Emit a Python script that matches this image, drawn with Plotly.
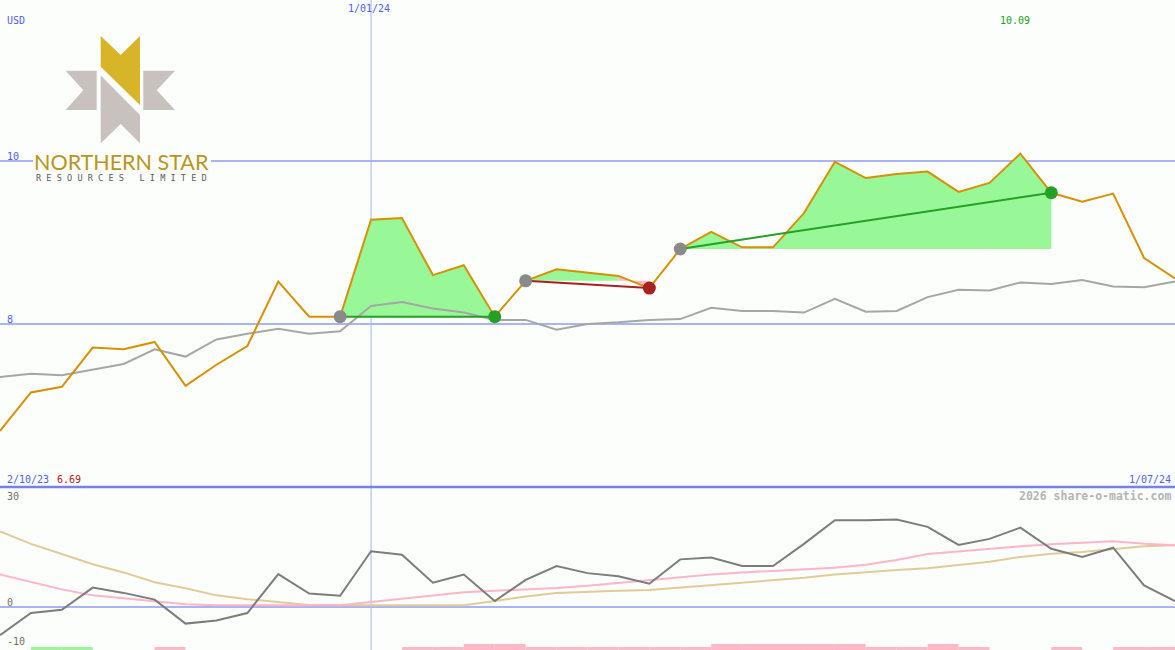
import plotly.graph_objects as go

W, H = 1175, 650

# ---------------- data (weekly, index 0 = 2/10/23) ----------------
price = [6.69, 7.16, 7.23, 7.71, 7.69, 7.78, 7.24, 7.50, 7.73, 8.52,
         8.09, 8.09, 9.28, 9.30, 8.60, 8.72, 8.09, 8.53, 8.67, 8.63,
         8.59, 8.44, 8.92, 9.13, 8.94, 8.94, 9.36, 9.99, 9.79, 9.84,
         9.87, 9.62, 9.73, 10.09, 9.61, 9.50, 9.60, 8.81, 8.56]
avg = [7.35, 7.39, 7.37, 7.44, 7.51, 7.69, 7.60, 7.81, 7.88, 7.94,
       7.88, 7.91, 8.22, 8.27, 8.19, 8.14, 8.05, 8.05, 7.93, 8.00,
       8.02, 8.05, 8.06, 8.20, 8.16, 8.16, 8.14, 8.31, 8.15, 8.16,
       8.33, 8.42, 8.41, 8.51, 8.49, 8.54, 8.46, 8.45, 8.52]

osc = [-8.0, -1.7, -0.8, 5.5, 4.0, 2.1, -4.7, -3.8, -1.7, 9.3,
       3.8, 3.2, 15.8, 14.8, 6.9, 9.2, 1.7, 7.7, 11.6, 9.6,
       8.7, 6.6, 13.5, 14.0, 11.6, 11.6, 17.9, 24.6, 24.6, 24.8,
       22.7, 17.6, 19.3, 22.5, 16.5, 14.2, 16.8, 6.1, 1.7]
osc_fast = [9.2, 7.0, 5.0, 3.3, 2.4, 1.5, 0.8, 0.5, 0.5, 0.6,
            0.5, 0.5, 1.4, 2.3, 3.3, 4.2, 4.6, 4.9, 5.4, 6.0,
            6.8, 7.6, 8.6, 9.2, 9.8, 10.2, 10.7, 11.1, 12.0, 13.3,
            15.0, 15.8, 16.6, 17.2, 17.8, 18.3, 18.6, 17.9, 17.5]
osc_slow = [21.4, 17.9, 15.0, 12.1, 9.8, 7.0, 5.3, 3.3, 2.2, 1.4,
            0.6, 0.5, 0.5, 0.5, 0.5, 0.5, 1.7, 3.0, 4.0, 4.4,
            4.6, 4.8, 5.5, 6.1, 6.8, 7.6, 8.3, 9.2, 9.9, 10.5,
            11.0, 11.8, 12.8, 14.2, 15.1, 15.6, 16.5, 17.2, 17.5]

# signal strips per weekly interval (38 intervals): 0 none, 1 thin, 2 tall
green_sig = [0, 1, 1, 0, 0, 0, 0, 0, 0, 0, 0, 0, 0, 0, 0, 0, 0, 0, 0,
             0, 0, 0, 0, 0, 0, 0, 0, 0, 0, 0, 0, 0, 0, 0, 0, 0, 0, 0]
pink_sig = [0, 0, 0, 0, 0, 1, 0, 0, 0, 0, 0, 0, 0, 1, 1, 2, 2, 1, 1,
            1, 1, 1, 1, 2, 2, 2, 2, 2, 1, 1, 2, 1, 0, 0, 1, 0, 1, 1]

trade_entry = [11, 17, 22]
trade_exit = [16, 21, 34]

x_idx = list(range(len(price)))
start_label, end_label, mid_label = "2/10/23", "1/07/24", "1/01/24"
mid_index = 12
low_label, high_label = "6.69", "10.09"

# ---------------- styles ----------------
BG = "#fcfefc"
ORANGE = "#d99000"
GRAYL = "#a6a6a6"
GRID = "#a8b4f4"
BLUE_TXT = "#4f5ff0"
FILL_G = "#98f898"
FILL_P = "#ffb8c8"
MONO = "DejaVu Sans Mono"

fig = go.Figure()

# trade fills (per segment between price and entry level)
gx, gy, rx, ry = [], [], [], []
for e, x in zip(trade_entry, trade_exit):
    lvl = price[e]
    for i in range(e, x):
        xs = [i, i + 1, i + 1, i, i, None]
        ys = [price[i], price[i + 1], lvl, lvl, price[i], None]
        if price[i + 1] >= lvl:
            gx += xs; gy += ys
        else:
            rx += xs; ry += ys
fig.add_trace(go.Scatter(x=gx, y=gy, fill="toself", fillcolor=FILL_G, mode="none",
                         xaxis="x", yaxis="y", hoverinfo="skip"))
fig.add_trace(go.Scatter(x=rx, y=ry, fill="toself", fillcolor=FILL_P, mode="none",
                         xaxis="x", yaxis="y", hoverinfo="skip"))

fig.add_trace(go.Scatter(x=x_idx, y=avg, mode="lines", line=dict(color=GRAYL, width=2),
                         xaxis="x", yaxis="y"))
fig.add_trace(go.Scatter(x=x_idx, y=price, mode="lines", line=dict(color=ORANGE, width=2),
                         xaxis="x", yaxis="y"))

# trade lines and markers
for e, x in zip(trade_entry, trade_exit):
    col = "#24a024" if price[x] >= price[e] else "#a82020"
    fig.add_trace(go.Scatter(x=[e, x], y=[price[e], price[x]],
                             mode="lines", line=dict(color=col, width=2),
                             xaxis="x", yaxis="y"))
for e, x in zip(trade_entry, trade_exit):
    col = "#24a024" if price[x] >= price[e] else "#a82020"
    fig.add_trace(go.Scatter(x=[e], y=[price[e]], mode="markers",
                             marker=dict(color="#8a8a8a", size=13, line=dict(width=0)),
                             xaxis="x", yaxis="y"))
    fig.add_trace(go.Scatter(x=[x], y=[price[x]], mode="markers",
                             marker=dict(color=col, size=13, line=dict(width=0)),
                             xaxis="x", yaxis="y"))

# lower panel
mid_x = [i + 0.5 for i in range(len(green_sig))]
fig.add_trace(go.Bar(x=mid_x, y=green_sig, width=1, marker=dict(color=FILL_G, line=dict(width=0)),
                     xaxis="x2", yaxis="y3"))
fig.add_trace(go.Bar(x=mid_x, y=pink_sig, width=1, marker=dict(color=FILL_P, line=dict(width=0)),
                     xaxis="x2", yaxis="y3"))
fig.add_trace(go.Scatter(x=x_idx, y=osc_slow, mode="lines", line=dict(color="#e0cc98", width=2),
                         xaxis="x2", yaxis="y2"))
fig.add_trace(go.Scatter(x=x_idx, y=osc_fast, mode="lines", line=dict(color="#ffb4c8", width=2),
                         xaxis="x2", yaxis="y2"))
fig.add_trace(go.Scatter(x=x_idx, y=osc, mode="lines", line=dict(color="#7c7c7c", width=2),
                         xaxis="x2", yaxis="y2"))

split = 163 / H
xcommon = dict(range=[0, len(price) - 1], showticklabels=False, ticks="", zeroline=False,
               showgrid=False, showline=False, fixedrange=True)

fig.update_layout(
    width=W, height=H, margin=dict(l=0, r=0, t=0, b=0),
    paper_bgcolor=BG, plot_bgcolor=BG, showlegend=False, barmode="overlay",
    xaxis=dict(anchor="y", domain=[0, 1], **xcommon),
    xaxis2=dict(anchor="y2", domain=[0, 1], matches="x", **xcommon),
    yaxis=dict(domain=[split, 1], range=[6.0, 11.975], tickvals=[8, 10], showgrid=True,
               gridcolor=GRID, gridwidth=2, showticklabels=False, zeroline=False, ticks="",
               fixedrange=True),
    yaxis2=dict(domain=[0, split], range=[-12.18, 34.0], tickvals=[0], showgrid=True,
                gridcolor=GRID, gridwidth=2, showticklabels=False, zeroline=False, ticks="",
                fixedrange=True),
    yaxis3=dict(domain=[0, split], range=[0, 54.3], overlaying="y2", visible=False,
                fixedrange=True),
    hovermode=False,
)


def pxx(v):
    return v / W


def pyy(v):
    return 1 - v / H


# vertical month line through both panels
fig.add_shape(type="line", xref="x", yref="paper", x0=mid_index, x1=mid_index, y0=0, y1=1,
              line=dict(color=GRID, width=1), layer="below")

# panel separator
fig.add_shape(type="line", xref="paper", yref="paper", x0=0, x1=1, y0=split, y1=split,
              line=dict(color="#7880f0", width=2.5), layer="above")

# logo
logo_parts = [
    ([(100.7, 36), (120.7, 55), (140, 36), (140, 105), (100.7, 66.7)], "#d8b428"),
    ([(100.7, 75.5), (140, 115), (140, 143.3), (120.7, 124), (100.7, 143.3)], "#c9c1bd"),
    ([(65.7, 70.7), (96.7, 70.7), (96.7, 110), (65.7, 110), (83.3, 90.3)], "#c9c1bd"),
    ([(143.3, 70.7), (175, 70.7), (156.7, 90.3), (175, 110), (143.3, 110)], "#c9c1bd"),
]
for pts, col in logo_parts:
    path = "M " + " L ".join(f"{pxx(a):.5f},{pyy(b):.5f}" for a, b in pts) + " Z"
    fig.add_shape(type="path", xref="paper", yref="paper", path=path,
                  fillcolor=col, line=dict(width=0), layer="above")
# logo backdrop behind the wordmark (interrupts the 10 gridline)
fig.add_shape(type="rect", xref="paper", yref="paper", x0=pxx(33), x1=pxx(211),
              y0=pyy(170), y1=pyy(152), fillcolor=BG, line=dict(width=0), layer="above")

fig.add_annotation(text="NORTHERN STAR", xref="paper", yref="paper", x=pxx(121.5), y=pyy(161.5),
                   xanchor="center", yanchor="middle", showarrow=False, height=21,
                   font=dict(family="Lato", size=21.5, color="#b8961c"))
fig.add_annotation(text="R E S O U R C E S   L I M I T E D", xref="paper", yref="paper",
                   x=pxx(121.5), y=pyy(177.5), xanchor="center", yanchor="middle", showarrow=False,
                   height=9, font=dict(family=MONO, size=8.6, color="#5a5a5a"))


def label(txt, x, y, color=BLUE_TXT, anchor="left", size=10, bold=False):
    t = f"<b>{txt}</b>" if bold else txt
    fig.add_annotation(text=t, xref="paper", yref="paper", x=pxx(x), y=pyy(y),
                       xanchor=anchor, yanchor="middle", showarrow=False,
                       font=dict(family=MONO, size=size, color=color))


label("USD", 5, 20)
label("10", 5, 156)
label("8", 5, 319)
label(mid_label, 369, 9, anchor="center")
label(high_label, 1015, 20, color="#20a020", anchor="center")
label(start_label, 5, 479)
label(low_label, 55, 479, color="#b02020")
label(end_label, 1173, 479, anchor="right")
label("30", 5, 496, color="#707070")
label("0", 5, 602, color="#707070")
label("-10", 5, 641, color="#707070")
label("2026 share-o-matic.com", 1173, 496, color="#b4b4b4", anchor="right", size=11.5, bold=True)

fig.write_html("out.html", config={"displayModeBar": False, "staticPlot": True},
               post_script="document.body.style.margin='0';document.body.style.padding='0';")
